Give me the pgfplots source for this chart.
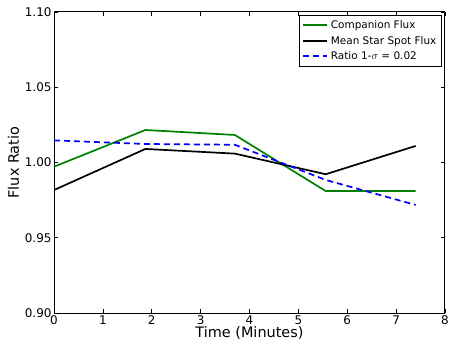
\documentclass[border=0pt]{standalone}
\usepackage{pgfplots}
\pgfplotsset{compat=1.18}
\usepackage{fontspec}
\setmainfont{DejaVu Sans}
\definecolor{mplgreen}{HTML}{008000}
\definecolor{mplblue}{HTML}{0000FF}
\begin{document}
\begin{tikzpicture}
\useasboundingbox (-54bp,-41bp) rectangle (399bp,313bp);
\begin{axis}[
  at={(0,0)}, anchor=south west,
  scale only axis, width=391bp, height=301bp,
  xmin=0, xmax=8, ymin=0.90, ymax=1.10,
  xtick={0,1,...,8},
  ytick={0.90,0.95,1.00,1.05,1.10},
  yticklabel style={xshift=1bp, /pgf/number format/fixed, /pgf/number format/fixed zerofill, /pgf/number format/precision=2},
  /pgf/number format/assume math mode=true,
  tick label style={font=\fontsize{12}{13}\selectfont},
  xticklabel style={yshift=1bp},
  label style={font=\fontsize{14.5}{16}\selectfont},
  xlabel={Time (Minutes)},
  ylabel={Flux Ratio},
  xlabel style={yshift=5bp},
  ylabel style={yshift=-1bp},
  tick align=inside,
  major tick length=4bp,
  axis line style={line width=1bp},
  every tick/.style={black, line width=0.6bp},
  legend style={at={(0.993,0.99)}, anchor=north east, font=\fontsize{10.5}{12}\selectfont, draw=black, line width=0.8bp, inner xsep=3bp, inner ysep=4bp, row sep=3bp, nodes={inner ysep=1.5bp, inner xsep=2.5bp}, cells={anchor=west}},
  legend image code/.code={\draw[#1, line width=2bp] (0bp,0.5bp) -- (24bp,0.5bp);},
  legend cell align=left,
]
\addplot[mplgreen, line width=1.7bp] coordinates {(0,0.9972) (1.87,1.0216) (3.70,1.0183) (5.56,0.981) (7.40,0.981)};
\addlegendentry{Companion Flux}
\addplot[black, line width=1.7bp] coordinates {(0,0.9817) (1.87,1.009) (3.70,1.0059) (5.56,0.9922) (7.40,1.011)};
\addlegendentry{Mean Star Spot Flux}
\addplot[mplblue, line width=1.7bp, dash pattern=on 6bp off 4bp] coordinates {(0,1.0147) (1.87,1.0123) (3.70,1.0118) (5.56,0.9884) (7.40,0.9718)};
\addlegendentry{Ratio 1-$\sigma$ = 0.02}
\end{axis}
\end{tikzpicture}
\end{document}
